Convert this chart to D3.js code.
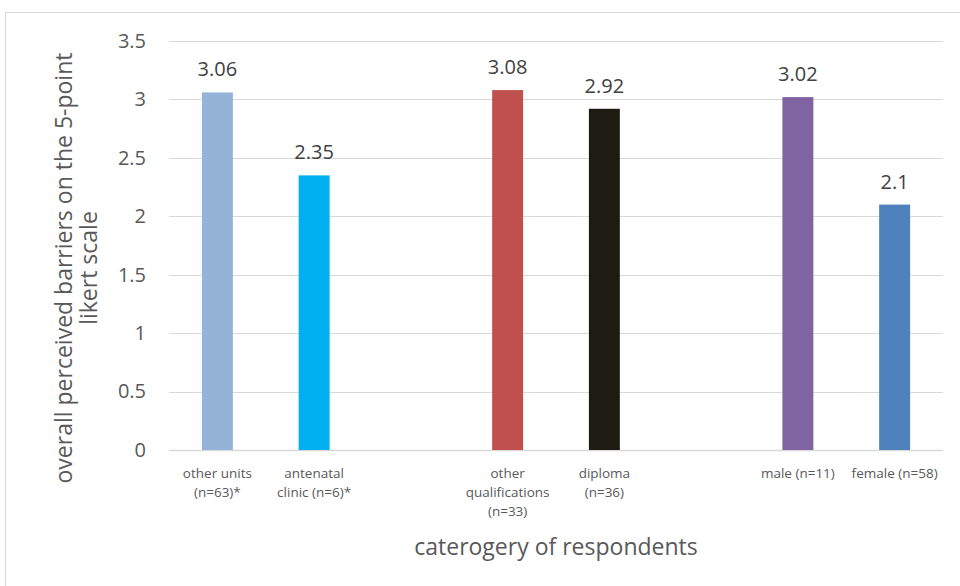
<!DOCTYPE html>
<html>
<head>
<meta charset="utf-8">
<script src="https://cdn.jsdelivr.net/npm/d3@7"></script>
<style>
  html, body { margin: 0; padding: 0; background: #fff; }
  svg { display: block; font-family: "Open Sans", "Noto Sans", sans-serif; }
</style>
</head>
<body>
<svg id="chart" width="960" height="586"></svg>
<script>
// Category slots (empty strings are spacer slots between groups)
const categories = ["other units (n=63)*", "antenatal clinic (n=6)*", "", "other qualifications (n=33)", "diploma (n=36)", "", "male (n=11)", "female (n=58)"];
// Label lines as wrapped under each slot
const categoryLines = [["other units", "(n=63)*"], ["antenatal", "clinic (n=6)*"], [], ["other", "qualifications", "(n=33)"], ["diploma", "(n=36)"], [], ["male (n=11)"], ["female (n=58)"]];
const values = [3.06, 2.35, null, 3.08, 2.92, null, 3.02, 2.1];
const barColors = ["#95B3D7", "#00B0F0", null, "#C0504D", "#1E1B12", null, "#8064A2", "#4F81BD"];
const yTicks = [0, 0.5, 1, 1.5, 2, 2.5, 3, 3.5];
const yTitleLines = ["overall perceived barriers on the 5-point", "likert scale"];
const xTitle = "caterogery of respondents";

const svg = d3.select("#chart");
const W = 960, H = 586;
const plot = { left: 169, right: 943, top: 41, bottom: 450 };

// Chart frame (runs past the right and bottom edges)
svg.append("rect")
  .attr("x", 5.5).attr("y", 12.5).attr("width", W + 20).attr("height", H + 20)
  .attr("fill", "#fff").attr("stroke", "#D9D9D9").attr("stroke-width", 1);

const x = d3.scaleBand().domain(d3.range(categories.length))
  .range([plot.left, plot.right]).paddingInner(0.68).paddingOuter(0.34);
const y = d3.scaleLinear().domain([0, 3.5]).range([plot.bottom, plot.top]);

// Gridlines
svg.append("g").selectAll("line").data(yTicks).join("line")
  .attr("x1", plot.left).attr("x2", plot.right)
  .attr("y1", d => Math.round(y(d)) + 0.5).attr("y2", d => Math.round(y(d)) + 0.5)
  .attr("stroke", "#D9D9D9").attr("stroke-width", d => d === 0 ? 1.5 : 1.2);

// Y axis tick labels
const yAxis = svg.append("g").attr("transform", `translate(${plot.left - 23},0)`)
  .call(d3.axisLeft(y).tickValues(yTicks).tickSize(0).tickPadding(0).tickFormat(d3.format("")));
yAxis.select(".domain").remove();
yAxis.selectAll("text").attr("fill", "#595959").attr("font-size", "20px")
  .attr("font-family", "'Open Sans', sans-serif");

// Bars
const barData = values.map((v, i) => ({ i, v, c: barColors[i] })).filter(d => d.v !== null);
svg.append("g").selectAll("rect").data(barData).join("rect")
  .attr("x", d => x(d.i)).attr("width", x.bandwidth())
  .attr("y", d => y(d.v)).attr("height", d => y(0) - y(d.v))
  .attr("fill", d => d.c);

// Value labels
svg.append("g").selectAll("text").data(barData).join("text")
  .attr("x", d => x(d.i) + x.bandwidth() / 2)
  .attr("y", d => y(d.v) - 16)
  .attr("text-anchor", "middle").attr("fill", "#404040").attr("font-size", "20px")
  .text(d => d.v);

// Category labels
const catG = svg.append("g");
categoryLines.forEach((lines, i) => {
  const t = catG.append("text")
    .attr("x", x(i) + x.bandwidth() / 2).attr("y", 478)
    .attr("text-anchor", "middle").attr("fill", "#595959").attr("font-size", "13.5px");
  lines.forEach((ln, k) => {
    t.append("tspan").attr("x", x(i) + x.bandwidth() / 2).attr("dy", k === 0 ? 0 : 19).text(ln);
  });
});

// X axis title
svg.append("text")
  .attr("x", (plot.left + plot.right) / 2).attr("y", 555)
  .attr("text-anchor", "middle").attr("fill", "#595959").attr("font-size", "23px")
  .text(xTitle);

// Y axis title
const yt = svg.append("text")
  .attr("transform", "translate(72,268) rotate(-90)")
  .attr("text-anchor", "middle").attr("fill", "#595959").attr("font-size", "23px");
yTitleLines.forEach((ln, k) => {
  yt.append("tspan").attr("x", 0).attr("dy", k === 0 ? 0 : 25).text(ln);
});
</script>
</body>
</html>
